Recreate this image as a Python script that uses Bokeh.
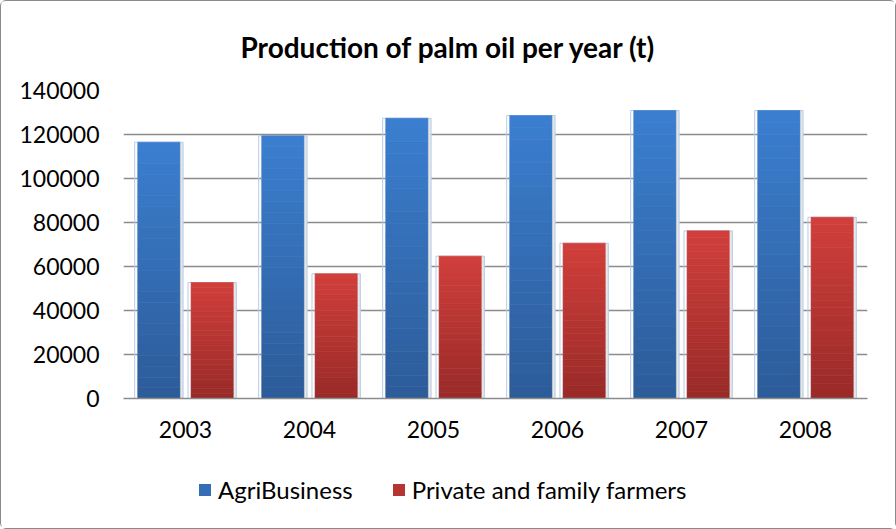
from bokeh.plotting import figure
from bokeh.models import ColumnDataSource, FactorRange, Range1d, Legend, LegendItem, FixedTicker
from bokeh.layouts import column
from bokeh.transform import dodge
from bokeh.embed import file_html
from bokeh.resources import INLINE

years = ["2003", "2004", "2005", "2006", "2007", "2008"]
agribusiness = [116500, 119400, 127400, 128600, 130900, 130900]
private_family = [52700, 56700, 64700, 70600, 76200, 82400]
series_names = ["AgriBusiness", "Private and family farmers"]
y_ticks = [0, 20000, 40000, 60000, 80000, 100000, 120000, 140000]

FONT = "Lato"
N_BANDS = 24


def hex_to_rgb(h):
    h = h.lstrip("#")
    return tuple(int(h[i:i + 2], 16) for i in (0, 2, 4))


def mix(c1, c2, t):
    a, b = hex_to_rgb(c1), hex_to_rgb(c2)
    return "#%02x%02x%02x" % tuple(round(a[i] + (b[i] - a[i]) * t) for i in range(3))


def band_source(values, top_color, bottom_color):
    xs, bottoms, tops, colors = [], [], [], []
    for yr, v in zip(years, values):
        for i in range(N_BANDS):
            xs.append(yr)
            bottoms.append(v * i / N_BANDS)
            tops.append(v * (i + 1) / N_BANDS)
            colors.append(mix(bottom_color, top_color, (i + 0.5) / N_BANDS))
    return ColumnDataSource(dict(x=xs, bottom=bottoms, top=tops, color=colors))


p = figure(
    width=894, height=447,
    x_range=FactorRange(*years, range_padding=0.0),
    y_range=Range1d(0, 140000),
    output_backend="svg", toolbar_location=None,
    title="Production of palm oil per year (t)",
    min_border_left=122, min_border_right=28, min_border_top=88, min_border_bottom=50,
)

p.title.align = "left"
p.title.offset = 117
p.title.text_font = FONT
p.title.text_font_style = "bold"
p.title.text_font_size = "28px"
p.title.text_color = "#000000"
p.title.standoff = 53

p.outline_line_color = None
p.xgrid.grid_line_color = None
p.ygrid.grid_line_color = "#8c8c8c"
p.ygrid.grid_line_width = 1.5
p.yaxis.ticker = FixedTicker(ticks=y_ticks)
p.yaxis.formatter.use_scientific = False
p.yaxis.axis_line_color = None
p.yaxis.major_tick_line_color = None
p.yaxis.minor_tick_line_color = None
p.yaxis.major_label_standoff = 18
p.xaxis.axis_line_color = "#8c8c8c"
p.xaxis.axis_line_width = 1.5
p.xaxis.major_tick_line_color = None
p.xaxis.major_label_standoff = 16
for ax in (p.xaxis[0], p.yaxis[0]):
    ax.major_label_text_font = FONT
    ax.major_label_text_font_size = "23px"
    ax.major_label_text_color = "#000000"

off = 0.215
bw = 0.34
specs = [
    (agribusiness, -off, "#3b7fd0", "#2c5b98", "#b7cbe8"),
    (private_family, off, "#d13f3b", "#982a28", "#b7cbe8"),
]
band_sources = []
for values, dx, top_c, bot_c, glow in specs:
    gsrc = ColumnDataSource(dict(x=years, top=values))
    p.vbar(x=dodge("x", dx + 0.012, range=p.x_range), top="top", bottom=0, width=bw + 0.03,
           source=gsrc, fill_color="#e6e6e6", line_color=None)
    p.vbar(x=dodge("x", dx, range=p.x_range), top="top", bottom=0, width=bw + 0.05,
           source=gsrc, fill_color=None, line_color=glow, line_width=1)
    src = band_source(values, top_c, bot_c)
    band_sources.append(src)
    p.vbar(x=dodge("x", dx, range=p.x_range), top="top", bottom="bottom", width=bw,
           source=src, fill_color="color", line_color="color", line_width=0.6)

# legend strip below the chart (its key renderers are hidden; only the legend shows)
p2 = figure(
    width=894, height=80, output_backend="svg", toolbar_location=None,
    x_axis_type=None, y_axis_type=None,
    min_border=0, min_border_left=0, min_border_right=0, min_border_top=0, min_border_bottom=0,
    x_range=FactorRange(*years), y_range=Range1d(-2, -1),
)
p2.outline_line_color = None
p2.xgrid.grid_line_color = None
p2.ygrid.grid_line_color = None
key_renderers = []
for src in band_sources:
    r = p2.vbar(x="x", top="top", bottom="bottom", width=0.3, source=src,
                fill_color="color", line_color=None)
    r.visible = False
    key_renderers.append(r)
legend = Legend(
    items=[LegendItem(label=series_names[i], renderers=[key_renderers[i]], index=N_BANDS // 2)
           for i in range(2)],
    orientation="horizontal", location=(74, 24),
    label_text_font=FONT, label_text_font_size="24px", label_text_color="#000000",
    glyph_width=15, glyph_height=15, label_standoff=6, spacing=38,
    border_line_color=None, background_fill_alpha=0, padding=4, margin=0,
    inactive_fill_alpha=0,
)
p2.add_layout(legend, "center")

layout = column(p, p2, spacing=0)
layout.styles = {"border": "1px solid #8a8a8a", "border-radius": "6px", "background": "white"}

open("out.html", "w").write(file_html(layout, INLINE))
